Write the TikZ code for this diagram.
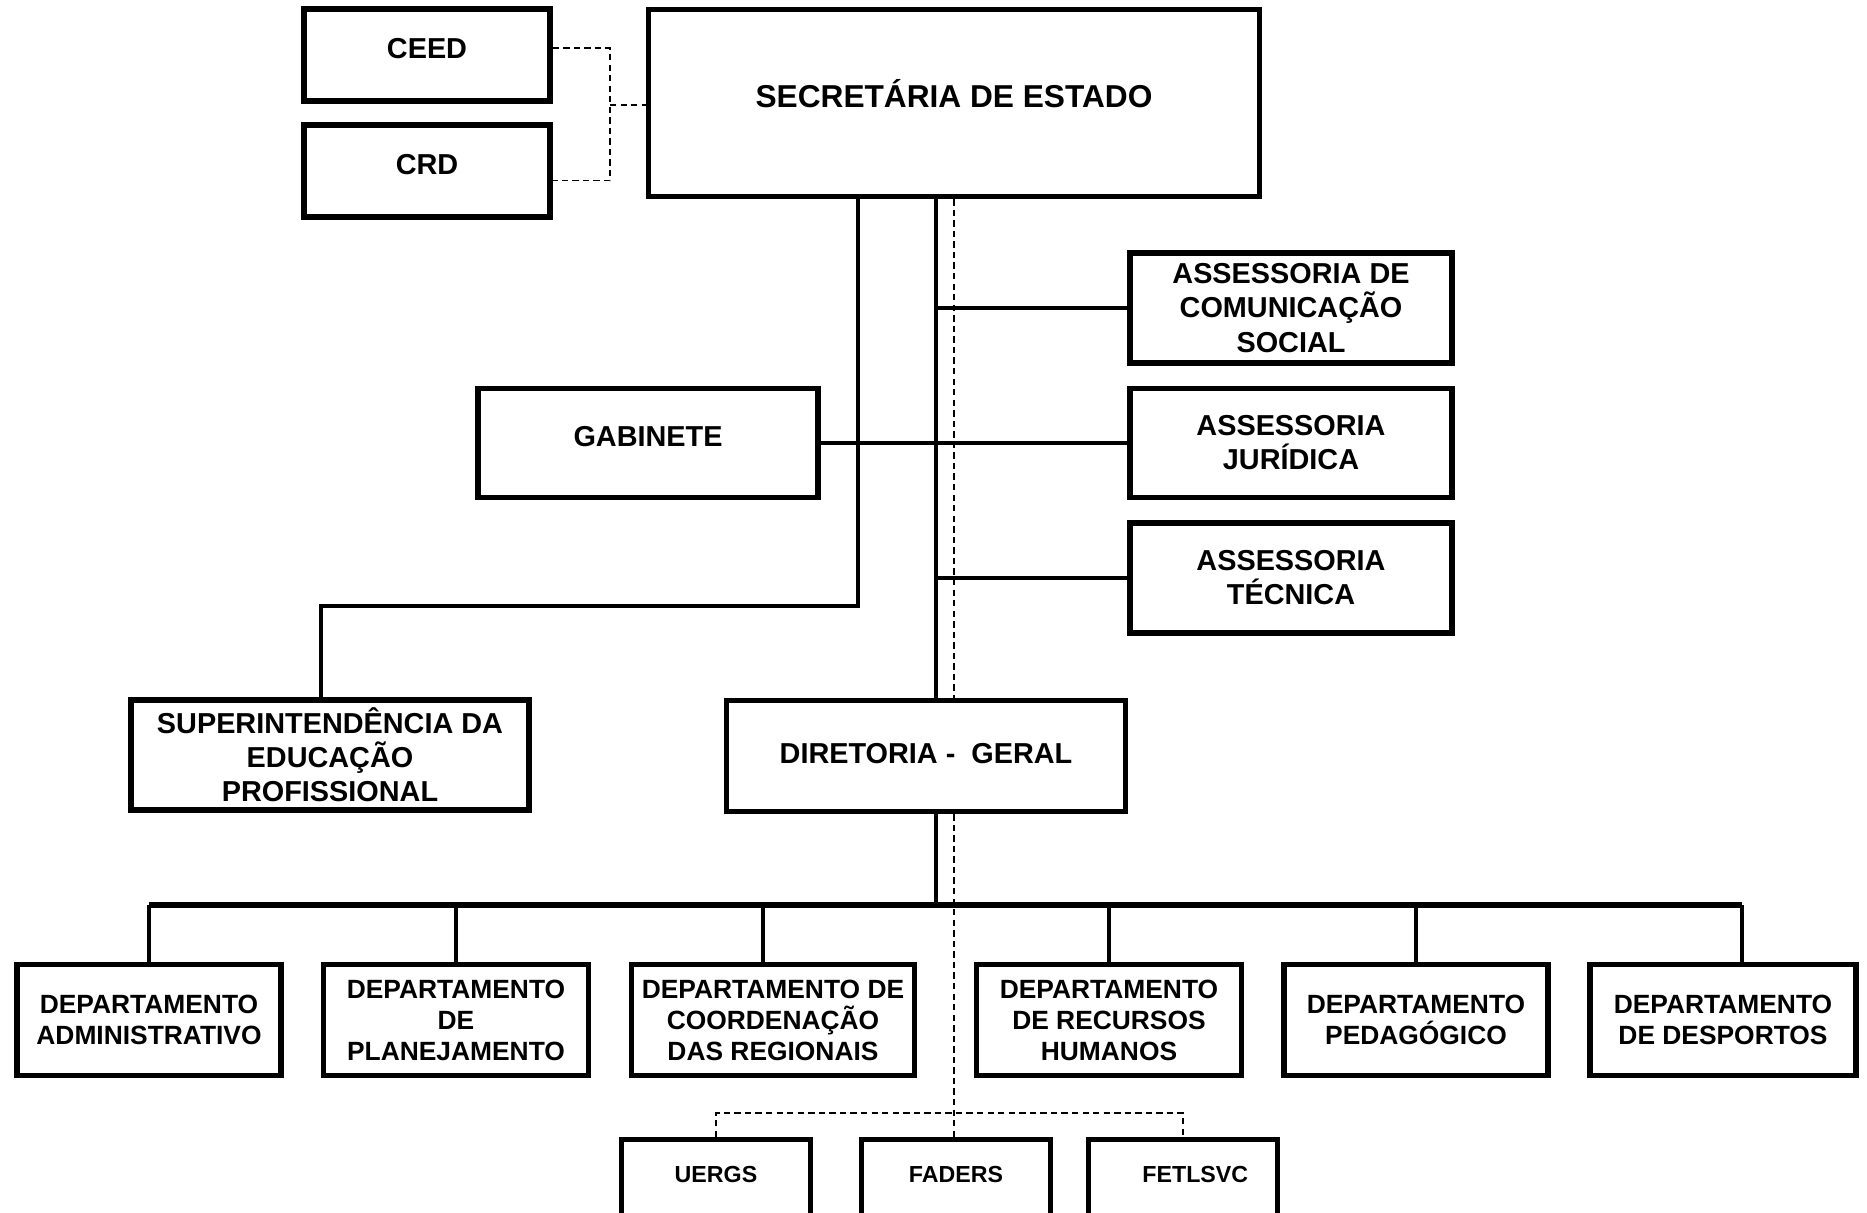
\documentclass[tikz,border=0pt]{standalone}
\usepackage{fontspec}
\setmainfont{Liberation Sans}

\begin{document}
\begin{tikzpicture}[x=0.01cm, y=-0.01cm]
				
				\useasboundingbox (0,0) rectangle (1867,1213);
				
				\tikzstyle{caixa}=[draw, fill=white, line width=1.5pt, align=center, inner sep=0pt, font=\bfseries\fontsize{8.2}{9.7}\selectfont]
				\tikzstyle{simples}=[text height=6pt, text depth=4pt]
				\tikzstyle{depto}=[caixa, minimum height=1.11cm, font=\bfseries\fontsize{7.5}{8.8}\selectfont]
				\tikzstyle{vinculada}=[caixa, minimum width=1.89cm, minimum height=1.05cm, text height=4.7pt, text depth=10pt, font=\bfseries\fontsize{6.6}{8}\selectfont]
				\tikzstyle{linha}=[line width=1.25pt]
				\tikzstyle{barra}=[line width=1.7pt]
				\tikzstyle{tracejada}=[line width=0.35pt, dash pattern=on 1.8pt off 1.2pt]
				
				% topo
				\node[caixa, simples, minimum width=2.46cm, minimum height=0.92cm] (ceed) at (427,55) {CEED};
				\node[caixa, simples, minimum width=2.46cm, minimum height=0.92cm] (crd) at (427,171) {CRD};
				\node[caixa, simples, minimum width=6.10cm, minimum height=1.87cm, text height=6.5pt, font=\bfseries\fontsize{9}{10}\selectfont] (sec) at (954,103) {SECRET\'ARIA DE ESTADO};
				
				% assessorias e gabinete
				\node[caixa, minimum width=3.22cm, minimum height=1.10cm] (ascom) at (1291,308) {ASSESSORIA DE\\COMUNICA\c{C}\~AO\\SOCIAL};
				\node[caixa, simples, minimum width=3.40cm, minimum height=1.09cm] (gab) at (648,443) {GABINETE};
				\node[caixa, minimum width=3.22cm, minimum height=1.09cm] (asjur) at (1291,443) {ASSESSORIA\\JUR\'IDICA};
				\node[caixa, minimum width=3.22cm, minimum height=1.10cm] (astec) at (1291,578) {ASSESSORIA\\T\'ECNICA};
				
				\node[caixa, minimum width=3.98cm, minimum height=1.10cm] (super) at (330,755) {SUPERINTEND\^ENCIA DA\\EDUCA\c{C}\~AO\\PROFISSIONAL};
				\node[caixa, minimum width=3.99cm, minimum height=1.11cm, text height=6pt, text depth=2pt] (dir) at (926,756) {DIRETORIA -\ \ GERAL};
				
				% departamentos
				\node[depto, minimum width=2.64cm] (adm) at (149,1020) {DEPARTAMENTO\\ADMINISTRATIVO};
				\node[depto, minimum width=2.65cm] (plan) at (456,1020) {DEPARTAMENTO\\DE\\PLANEJAMENTO};
				\node[depto, minimum width=2.83cm] (coord) at (773,1020) {DEPARTAMENTO DE\\COORDENA\c{C}\~AO\\DAS REGIONAIS};
				\node[depto, minimum width=2.65cm] (rh) at (1109,1020) {DEPARTAMENTO\\DE RECURSOS\\HUMANOS};
				\node[depto, minimum width=2.64cm] (ped) at (1416,1020) {DEPARTAMENTO\\PEDAG\'OGICO};
				\node[depto, minimum width=2.66cm] (desp) at (1723,1020) {DEPARTAMENTO\\DE DESPORTOS};
				
				% vinculadas
				\node[vinculada] (uergs) at (716,1192) {UERGS};
				\node[vinculada] (faders) at (956,1192) {FADERS};
				\node[vinculada] (fetlsvc) at (1183,1192) {\hspace{7pt}FETLSVC};
				
				\coordinate (jc) at (610,105);
				\coordinate (ramo) at (858,606);
				\coordinate (eixo) at (936,905);
				\coordinate (sub) at (954,1113);
				
				\draw[tracejada] ([yshift=2pt]ceed.east) -| (jc) |- ([yshift=-2.8pt]crd.east);
				\draw[tracejada] (jc) -- (jc -| sec.west);
				
				\draw[linha] (ramo |- sec.south) -- (ramo) -| ([xshift=-2.6pt]super.north);
				\draw[linha] (eixo |- sec.south) -- (eixo |- dir.north);
				\draw[linha] (eixo |- ascom.west) -- (ascom.west);
				\draw[linha] (gab.east) -- (asjur.west);
				\draw[linha] (eixo |- astec.west) -- (astec.west);
				\draw[linha] (eixo |- dir.south) -- (eixo);
				
				\draw[barra] (adm.north |- eixo) -- ([xshift=5.4pt]desp.north |- eixo);
				\foreach \d in {adm,plan,rh,ped}
					\draw[linha] (\d.north |- eixo) -- (\d.north);
				\draw[linha] ([xshift=-2.8pt]coord.north |- eixo) -- ([xshift=-2.8pt]coord.north);
				\draw[linha] ([xshift=5.4pt]desp.north |- eixo) -- ([xshift=5.4pt]desp.north);
				
				\draw[tracejada] (sec.south) -- (sec.south |- dir.north);
				\draw[tracejada] (sec.south |- dir.south) -- (sub) -- (sub |- faders.north);
				\draw[tracejada] (uergs.north) |- (sub) -| (fetlsvc.north);
				
\end{tikzpicture}
\end{document}
